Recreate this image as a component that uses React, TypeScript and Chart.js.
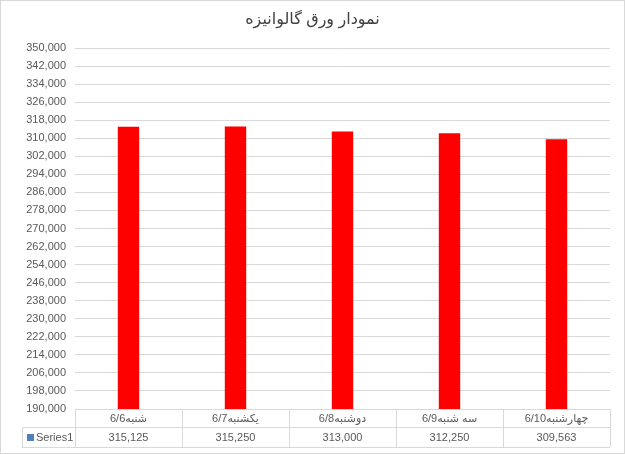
import React, { useEffect, useRef } from "react";
import { Chart, registerables } from "chart.js";

Chart.register(...registerables);

const TITLE = "نمودار ورق گالوانیزه";
const categories = ["شنبه6/6", "یکشنبه6/7", "دوشنبه6/8", "سه شنبه6/9", "چهارشنبه6/10"];
const seriesName = "Series1";
const seriesValues = [315125, 315250, 313000, 312250, 309563];
const yMin = 190000;
const yMax = 350000;
const yStep = 8000;

const FONT = "'Liberation Sans', 'DejaVu Sans', sans-serif";
const TEXT = "#595959";
const LINE = "#d9d9d9";

const fmt = (v: number) => v.toLocaleString("en-US");

const tablePlugin = {
  id: "tablePlugin",
  afterDraw(chart: any) {
    const ctx = chart.ctx as CanvasRenderingContext2D;
    const { left, right, bottom } = chart.chartArea;
    const xs = chart.scales.x;
    const n = categories.length;
    const colW = (right - left) / n;
    const rowH1 = 18;
    const rowH2 = 20;
    const legendLeft = 22;
    const y0 = bottom;
    const y1 = y0 + rowH1;
    const y2 = y1 + rowH2;
    ctx.save();
    // outer border
    ctx.strokeStyle = LINE;
    ctx.lineWidth = 1;
    ctx.strokeRect(0.5, 0.5, chart.width - 1, chart.height - 1);
    // title
    ctx.fillStyle = "#404040";
    ctx.font = `16px ${FONT}`;
    ctx.textAlign = "center";
    ctx.textBaseline = "middle";
    ctx.fillText(TITLE, chart.width / 2, 20);
    // table lines
    ctx.beginPath();
    ctx.moveTo(left, y0 + 0.5);
    ctx.lineTo(right, y0 + 0.5);
    ctx.moveTo(legendLeft, y1 + 0.5);
    ctx.lineTo(right, y1 + 0.5);
    ctx.moveTo(legendLeft, y2 + 0.5);
    ctx.lineTo(right, y2 + 0.5);
    ctx.moveTo(legendLeft + 0.5, y1);
    ctx.lineTo(legendLeft + 0.5, y2);
    for (let i = 0; i <= n; i++) {
      const x = Math.round(left + i * colW) + 0.5;
      ctx.moveTo(x, y0);
      ctx.lineTo(x, y2);
    }
    ctx.stroke();
    // texts
    ctx.font = `11px ${FONT}`;
    ctx.fillStyle = TEXT;
    ctx.textAlign = "center";
    for (let i = 0; i < n; i++) {
      const cx = xs.getPixelForValue(i);
      ctx.fillText(categories[i], cx, y0 + rowH1 / 2 + 1);
      ctx.fillText(fmt(seriesValues[i]), cx, y1 + rowH2 / 2 + 1);
    }
    // legend
    ctx.fillStyle = "#4f81bd";
    ctx.fillRect(27, y1 + 7, 7, 7);
    ctx.fillStyle = TEXT;
    ctx.textAlign = "left";
    ctx.fillText(seriesName, 36, y1 + rowH2 / 2 + 1);
    ctx.restore();
  },
};

export default function App() {
  const ref = useRef<HTMLCanvasElement>(null);
  useEffect(() => {
    if (!ref.current) return;
    const chart = new Chart(ref.current, {
      type: "bar",
      data: {
        labels: categories,
        datasets: [
          {
            label: seriesName,
            data: seriesValues,
            backgroundColor: "#ff0000",
            borderWidth: 0,
            barPercentage: 0.2,
            categoryPercentage: 1,
          },
        ],
      },
      options: {
        animation: false,
        responsive: false,
        maintainAspectRatio: false,
        layout: { padding: { top: 48, bottom: 45, right: 15, left: 0 } },
        plugins: {
          legend: { display: false },
          tooltip: { enabled: false },
          title: { display: false },
        },
        scales: {
          x: { display: false, offset: true },
          y: {
            min: yMin,
            max: yMax,
            border: { display: false },
            grid: { color: LINE, drawTicks: false },
            ticks: {
              stepSize: yStep,
              color: TEXT,
              font: { family: FONT, size: 11 },
              padding: 9,
              callback: (v: any) => fmt(Number(v)),
            },
            afterFit: (s: any) => {
              s.width = 75;
            },
          },
        },
      },
      plugins: [tablePlugin],
    });
    return () => chart.destroy();
  }, []);
  return (
    <div style={{ position: "absolute", left: 0, top: 0, width: 625, height: 454, background: "#fff" }}>
      <canvas ref={ref} width={625} height={454} style={{ width: 625, height: 454 }} />
    </div>
  );
}
